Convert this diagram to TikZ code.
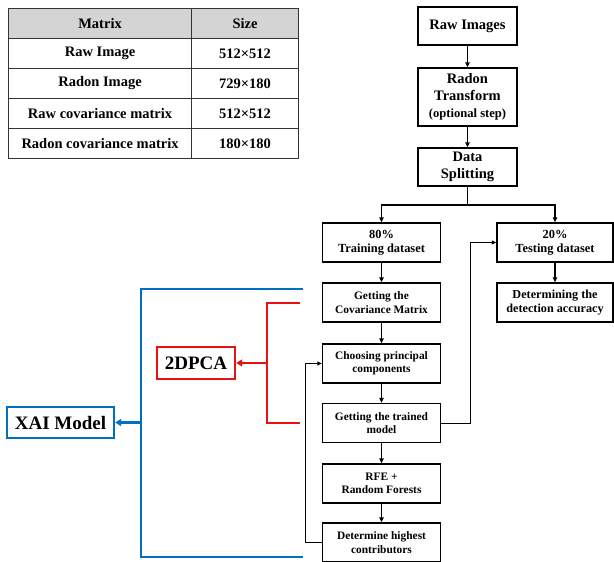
\documentclass[tikz,border=0pt]{standalone}
\usepackage{fontspec}
\setmainfont{Liberation Serif}
\usetikzlibrary{arrows.meta, positioning}
\definecolor{xaiblue}{RGB}{0, 112, 192}
\definecolor{pcared}{RGB}{232, 16, 16}
\definecolor{headgray}{RGB}{212, 212, 212}

\begin{document}
\begin{tikzpicture}[
        x=1pt, y=-1pt,
        cell/.style={draw=black!80, line width=1.1pt, inner sep=0pt, minimum height=30pt, anchor=north west, font=\fontsize{14.5}{16}\selectfont\bfseries},
        bigbox/.style={draw, line width=1.5pt, inner sep=0pt, minimum width=99pt, align=center, font=\fontsize{14.5}{17}\selectfont\bfseries},
        box/.style={draw, line width=1.5pt, inner sep=0pt, minimum width=118pt, minimum height=39pt, align=center, font=\fontsize{11.4}{13.5}\selectfont\bfseries},
        tag/.style={draw, line width=2.4pt, inner sep=0pt, font=\fontsize{19}{21}\selectfont\bfseries},
        arr/.style={-{Triangle[length=5pt, width=4.5pt]}, line width=1.1pt},
        thin arr/.style={-{Triangle[length=4.5pt, width=4pt]}, line width=0.9pt},
        brace/.style={line width=2.6pt},
        brace arr/.style={-{Triangle[length=6pt, width=7pt]}, line width=2.6pt}
      ]
        \useasboundingbox (0,0) rectangle (614,562);

        \node[cell, minimum width=183pt, fill=headgray] (h1) at (8,8) {Matrix};
        \node[cell, minimum width=107pt, fill=headgray] (h2) at (191,8) {Size};
        \node[cell, minimum width=183pt] (r1) at (8,38) {Raw Image};
        \node[cell, minimum width=107pt] (s1) at (191,38) {512×512};
        \node[cell, minimum width=183pt] (r2) at (8,68) {Radon Image};
        \node[cell, minimum width=107pt] (s2) at (191,68) {729×180};
        \node[cell, minimum width=183pt] (r3) at (8,98) {Raw covariance matrix};
        \node[cell, minimum width=107pt] (s3) at (191,98) {512×512};
        \node[cell, minimum width=183pt] (r4) at (8,128) {Radon covariance matrix};
        \node[cell, minimum width=107pt] (s4) at (191,128) {180×180};

        \node[bigbox, minimum height=38pt] (raw) at (467.5,26) {Raw Images};
        \node[bigbox, minimum height=58pt] (radon) at (467.5,97) {Radon\\Transform\\{\fontsize{12.6}{14}\selectfont(optional step)}};
        \node[bigbox, minimum height=38pt] (split) at (467.5,167) {Data\\Splitting};

        \node[box, font=\fontsize{12.4}{14.5}\selectfont\bfseries] (train) at (381.5,242.5) {80\%\\Training dataset};
        \node[box, minimum width=116pt, font=\fontsize{12.4}{14.5}\selectfont\bfseries] (test) at (555,242.5) {20\%\\Testing dataset};
        \node[box] (cov) at (381.5,302.5) {Getting the\\Covariance Matrix};
        \node[box, minimum width=116pt, font=\fontsize{12.2}{14}\selectfont\bfseries] (acc) at (555,302.5) {Determining the\\detection accuracy};
        \node[box] (choose) at (381.5,363.5) {Choosing principal\\components};
        \node[box] (model) at (381.5,423) {Getting the trained\\model};
        \node[box] (rfe) at (381.5,483.5) {RFE +\\Random Forests};
        \node[box] (contrib) at (381.5,542.5) {Determine highest\\contributors};

        \node[tag, draw=pcared, minimum width=78pt, minimum height=32pt] (pca) at (196,363) {2DPCA};
        \node[tag, draw=xaiblue, minimum width=107pt, minimum height=31pt] (xai) at (60.5,422.5) {XAI Model};

        \coordinate (fork) at (467.5,205);
        \draw[arr] (raw) -- (radon);
        \draw[arr] (radon) -- (split);
        \draw[line width=1.1pt] (split) -- (fork);
        \draw[arr] (fork) -| (train);
        \draw[arr] (fork) -| (test);
        \draw[arr] (train) -- (cov);
        \draw[arr] (cov) -- (choose);
        \draw[arr] (choose) -- (model);
        \draw[arr] (model) -- (rfe);
        \draw[arr] (rfe) -- (contrib);
        \draw[arr] (test) -- (acc);
        \draw[thin arr] (model.east) -- (470,423) -- (470,242.5) -- (test.west);
        \draw[thin arr] (contrib.west) -- (305,542.5) -- (305,363.5) -- (choose.west);

        \draw[brace, xaiblue] (303,289) -- (141,289) -- (141,557) -- (303,557);
        \draw[brace arr, xaiblue] (141,422.5) -- (xai.east);
        \draw[brace, pcared] (300,303) -- (267,303) -- (267,423) -- (300,423);
        \draw[brace arr, pcared] (267,363) -- (pca.east);
      \end{tikzpicture}
\end{document}
